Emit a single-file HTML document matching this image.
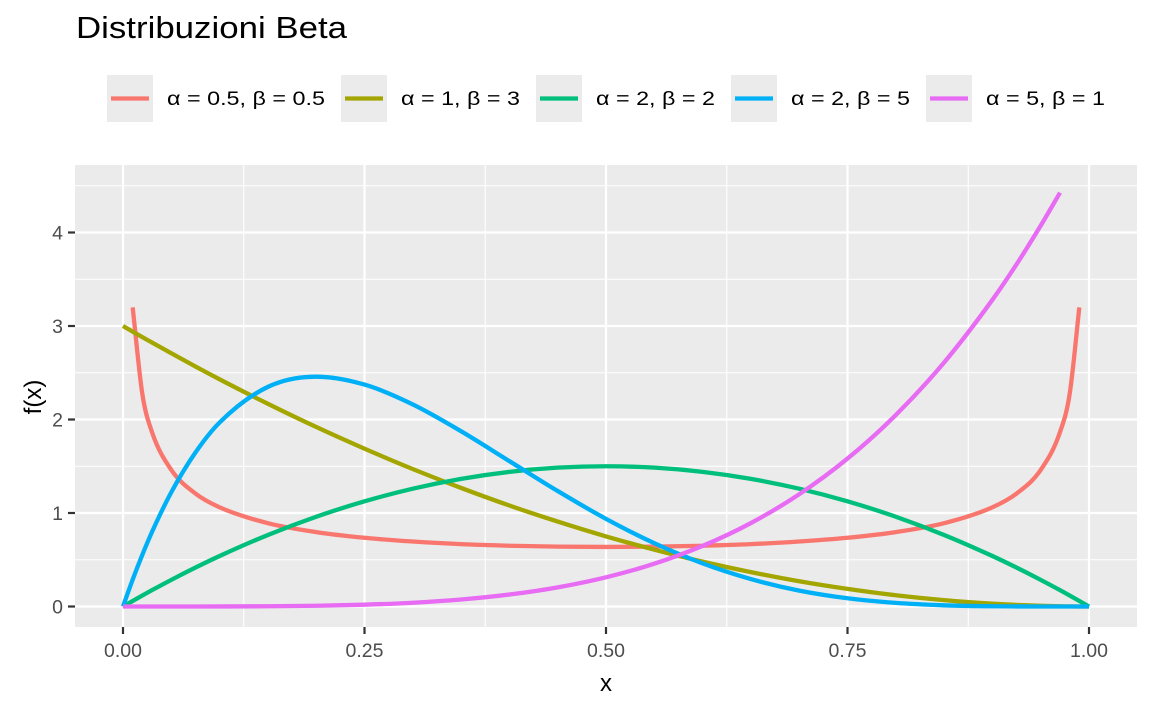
<!DOCTYPE html>
<html><head><meta charset="utf-8"><style>
body{margin:0;background:#fff;font-family:"Liberation Sans",sans-serif}
</style></head><body>
<svg id="chart" width="1152" height="711" xmlns="http://www.w3.org/2000/svg" font-family="Liberation Sans, sans-serif">
<text x="76" y="38" font-size="31" textLength="271" lengthAdjust="spacingAndGlyphs" fill="#000">Distribuzioni Beta</text>
<g id="legend"></g>
<rect x="75" y="165" width="1062" height="462" fill="#EBEBEB"/>
<g id="grid"></g><g id="series"></g><g id="axes"></g>
<text x="606" y="691" font-size="24" text-anchor="middle">x</text>
<text transform="translate(41,397) rotate(-90)" font-size="24" text-anchor="middle">f(x)</text>
</svg>
<script>
const xs=[0,0.01,0.02,0.03,0.05,0.075,0.1,0.15,0.2,0.25,0.3,0.35,0.4,0.45,0.5,0.55,0.6,0.65,0.7,0.75,0.8,0.85,0.9,0.925,0.95,0.97,0.98,0.99,1];
const seriesNames=["α = 0.5, β = 0.5","α = 1, β = 3","α = 2, β = 2","α = 2, β = 5","α = 5, β = 1"];
const yA=[null,3.199,2.274,1.866,1.461,1.208,1.061,0.891,0.796,0.735,0.695,0.667,0.650,0.640,0.637,0.640,0.650,0.667,0.695,0.735,0.796,0.891,1.061,1.208,1.461,1.866,2.274,3.199,null];
const yB=[3,2.94,2.881,2.823,2.708,2.567,2.43,2.168,1.92,1.688,1.47,1.268,1.08,0.908,0.75,0.608,0.48,0.368,0.27,0.188,0.12,0.068,0.03,0.017,0.0075,0.0027,0.0012,0.0003,0];
const yC=[0,0.0594,0.1176,0.1746,0.285,0.416,0.54,0.765,0.96,1.125,1.26,1.365,1.44,1.485,1.5,1.485,1.44,1.365,1.26,1.125,0.96,0.765,0.54,0.416,0.285,0.1746,0.1176,0.0594,0];
const yD=[0,0.288,0.553,0.797,1.222,1.647,1.968,2.349,2.458,2.373,2.161,1.874,1.555,1.235,0.9375,0.677,0.461,0.293,0.170,0.088,0.0384,0.0129,0.0027,0.0009,0.0002,0,0,0,0];
const yE=[0,0,0,0,0,0,0.0005,0.0025,0.008,0.0195,0.0405,0.075,0.128,0.205,0.3125,0.4575,0.648,0.8925,1.2005,1.582,2.048,2.61,3.28,3.66,4.073,4.426,null,null,null];
const xTicks=["0.00","0.25","0.50","0.75","1.00"];
const yTicks=["0","1","2","3","4"];
const colors=["#F8766D","#A3A500","#00BF7D","#00B0F6","#E76BF3"];
const allY=[yA,yB,yC,yD,yE];
const NS="http://www.w3.org/2000/svg";
const sx=v=>123+v*966, sy=v=>606.5-v*93.5;
function mk(t,a,p){const e=document.createElementNS(NS,t);for(const k in a)e.setAttribute(k,a[k]);p.appendChild(e);return e;}
function monoPath(P){const n=P.length;if(n<2)return '';const d=[],m=new Array(n);
for(let i=0;i<n-1;i++)d.push((P[i+1][1]-P[i][1])/(P[i+1][0]-P[i][0]));
m[0]=d[0];m[n-1]=d[n-2];for(let i=1;i<n-1;i++){m[i]=(d[i-1]*d[i]<=0)?0:(d[i-1]+d[i])/2;}
for(let i=0;i<n-1;i++){if(d[i]===0){m[i]=0;m[i+1]=0;continue;}const a=m[i]/d[i],b=m[i+1]/d[i],s=a*a+b*b;if(s>9){const t=3/Math.sqrt(s);m[i]=t*a*d[i];m[i+1]=t*b*d[i];}}
let s='M'+P[0][0].toFixed(2)+','+P[0][1].toFixed(2);
for(let i=0;i<n-1;i++){const h=(P[i+1][0]-P[i][0])/3;s+='C'+(P[i][0]+h).toFixed(2)+','+(P[i][1]+m[i]*h).toFixed(2)+' '+(P[i+1][0]-h).toFixed(2)+','+(P[i+1][1]-m[i+1]*h).toFixed(2)+' '+P[i+1][0].toFixed(2)+','+P[i+1][1].toFixed(2);}
return s;}
const grid=document.getElementById('grid'),axes=document.getElementById('axes');
for(let i=0;i<4;i++){const v=0.125+i*0.25;const l=mk('line',{x1:sx(v),x2:sx(v),y1:165,y2:627,stroke:'#fff','stroke-width':1.1},grid);}
for(let i=0;i<5;i++){const v=0.5+i;const l=mk('line',{x1:75,x2:1137,y1:sy(v),y2:sy(v),stroke:'#fff','stroke-width':1.1},grid);}
xTicks.forEach((t,i)=>{const v=parseFloat(t);const l=mk('line',{x1:sx(v),x2:sx(v),y1:165,y2:627,stroke:'#fff','stroke-width':2.2},grid);
mk('line',{x1:sx(v),x2:sx(v),y1:627,y2:634,stroke:'#333','stroke-width':2.2},axes);
const tx=mk('text',{x:sx(v),y:657,'font-size':19.5,fill:'#4D4D4D','text-anchor':'middle'},axes);tx.textContent=t;});
yTicks.forEach((t,i)=>{const v=parseFloat(t);const l=mk('line',{x1:75,x2:1137,y1:sy(v),y2:sy(v),stroke:'#fff','stroke-width':2.2},grid);
mk('line',{x1:68,x2:75,y1:sy(v),y2:sy(v),stroke:'#333','stroke-width':2.2},axes);
const tx=mk('text',{x:63,y:sy(v)+7,'font-size':19.5,fill:'#4D4D4D','text-anchor':'end'},axes);tx.textContent=t;});
const sg=document.getElementById('series');
allY.forEach((ys,k)=>{const P=[];xs.forEach((x,i)=>{if(ys[i]===null)return;P.push([sx(x),sy(ys[i])]);});
const p=mk('path',{d:monoPath(P),fill:'none',stroke:colors[k],'stroke-width':4.3,'stroke-linejoin':'round'},sg);});
const lg=document.getElementById('legend');const keyX=[107,341,536,731,926];const textW=[158,119,119,119,119];
seriesNames.forEach((n,k)=>{const g=mk('g',{},lg);
mk('rect',{x:keyX[k],y:75,width:46,height:47,fill:'#EBEBEB'},g);
mk('line',{x1:keyX[k]+4,x2:keyX[k]+42,y1:98.5,y2:98.5,stroke:colors[k],'stroke-width':4.3},g);
const t=mk('text',{x:keyX[k]+60,y:105,'font-size':19.5,fill:'#000',textLength:textW[k],lengthAdjust:'spacingAndGlyphs'},g);t.textContent=n;});
</script>
</body></html>
